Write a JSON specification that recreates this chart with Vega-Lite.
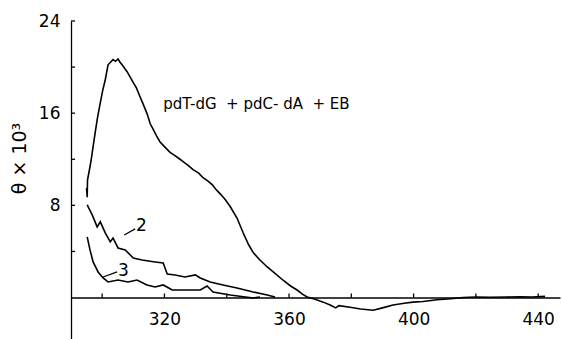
{
  "$schema": "https://vega.github.io/schema/vega-lite/v6.json",
  "width": 489,
  "height": 318,
  "autosize": {"type": "none"},
  "padding": {"left": 71, "top": 21, "right": 2, "bottom": 0},
  "background": "white",
  "config": {"view": {"stroke": null}, "font": "DejaVu Sans"},
  "datasets": {
    "curves": [
      {"s": "1", "x": 295.2, "y": 8.7}, {"s": "1", "x": 295.0, "y": 9.5}, {"s": "1", "x": 295.3, "y": 10.2},
      {"s": "1", "x": 296.0, "y": 11.2}, {"s": "1", "x": 296.5, "y": 12.0}, {"s": "1", "x": 297.2, "y": 13.3},
      {"s": "1", "x": 297.75, "y": 14.3}, {"s": "1", "x": 298.5, "y": 15.6}, {"s": "1", "x": 299.4, "y": 16.9},
      {"s": "1", "x": 300.2, "y": 18.0}, {"s": "1", "x": 301.0, "y": 18.9}, {"s": "1", "x": 301.9, "y": 20.2},
      {"s": "1", "x": 302.6, "y": 20.4}, {"s": "1", "x": 303.5, "y": 20.65}, {"s": "1", "x": 304.3, "y": 20.5},
      {"s": "1", "x": 305.1, "y": 20.7}, {"s": "1", "x": 305.8, "y": 20.4}, {"s": "1", "x": 306.4, "y": 20.2},
      {"s": "1", "x": 308.0, "y": 19.6}, {"s": "1", "x": 310.0, "y": 18.65}, {"s": "1", "x": 311.0, "y": 18.2},
      {"s": "1", "x": 312.2, "y": 17.4}, {"s": "1", "x": 313.3, "y": 16.7}, {"s": "1", "x": 314.5, "y": 15.9},
      {"s": "1", "x": 315.4, "y": 15.1}, {"s": "1", "x": 316.4, "y": 14.6}, {"s": "1", "x": 317.5, "y": 14.0},
      {"s": "1", "x": 318.6, "y": 13.5}, {"s": "1", "x": 320.0, "y": 13.1}, {"s": "1", "x": 321.8, "y": 12.6},
      {"s": "1", "x": 323.5, "y": 12.3}, {"s": "1", "x": 325.0, "y": 12.0}, {"s": "1", "x": 326.0, "y": 11.8},
      {"s": "1", "x": 327.5, "y": 11.5}, {"s": "1", "x": 329.2, "y": 11.1}, {"s": "1", "x": 331.0, "y": 10.8},
      {"s": "1", "x": 332.4, "y": 10.4}, {"s": "1", "x": 334.0, "y": 10.1}, {"s": "1", "x": 335.3, "y": 9.8},
      {"s": "1", "x": 336.5, "y": 9.4}, {"s": "1", "x": 337.9, "y": 9.0}, {"s": "1", "x": 339.5, "y": 8.5},
      {"s": "1", "x": 341.1, "y": 7.9}, {"s": "1", "x": 343.3, "y": 6.9}, {"s": "1", "x": 345.3, "y": 5.6},
      {"s": "1", "x": 347.0, "y": 4.6}, {"s": "1", "x": 348.5, "y": 3.9}, {"s": "1", "x": 350.5, "y": 3.3},
      {"s": "1", "x": 353.0, "y": 2.65}, {"s": "1", "x": 355.5, "y": 2.1}, {"s": "1", "x": 358.1, "y": 1.5},
      {"s": "1", "x": 360.5, "y": 1.0}, {"s": "1", "x": 362.6, "y": 0.65}, {"s": "1", "x": 364.3, "y": 0.3},
      {"s": "1", "x": 365.8, "y": 0.05}, {"s": "1", "x": 368.4, "y": -0.15}, {"s": "1", "x": 371.0, "y": -0.4},
      {"s": "1", "x": 373.2, "y": -0.65}, {"s": "1", "x": 375.0, "y": -0.9}, {"s": "1", "x": 376.0, "y": -0.7},
      {"s": "1", "x": 379.6, "y": -0.85}, {"s": "1", "x": 383.0, "y": -1.0}, {"s": "1", "x": 387.0, "y": -1.1},
      {"s": "1", "x": 390.0, "y": -0.9}, {"s": "1", "x": 393.4, "y": -0.65}, {"s": "1", "x": 397.0, "y": -0.5},
      {"s": "1", "x": 399.8, "y": -0.4}, {"s": "1", "x": 403.0, "y": -0.35}, {"s": "1", "x": 407.5, "y": -0.2},
      {"s": "1", "x": 412.0, "y": -0.1}, {"s": "1", "x": 415.9, "y": 0.0}, {"s": "1", "x": 420.0, "y": 0.05},
      {"s": "1", "x": 424.6, "y": 0.03}, {"s": "1", "x": 430.0, "y": 0.05}, {"s": "1", "x": 434.2, "y": 0.07},
      {"s": "1", "x": 438.0, "y": 0.05}, {"s": "1", "x": 442.2, "y": 0.1},
      {"s": "2", "x": 295.2, "y": 8.04}, {"s": "2", "x": 296.8, "y": 7.17}, {"s": "2", "x": 298.4, "y": 6.13},
      {"s": "2", "x": 299.4, "y": 6.57}, {"s": "2", "x": 301.0, "y": 5.61}, {"s": "2", "x": 302.6, "y": 4.83},
      {"s": "2", "x": 303.5, "y": 5.17}, {"s": "2", "x": 305.1, "y": 4.3}, {"s": "2", "x": 307.4, "y": 4.13},
      {"s": "2", "x": 310.0, "y": 3.43}, {"s": "2", "x": 312.8, "y": 3.26}, {"s": "2", "x": 317.0, "y": 3.09},
      {"s": "2", "x": 319.6, "y": 3.0}, {"s": "2", "x": 320.9, "y": 2.04}, {"s": "2", "x": 323.4, "y": 1.96},
      {"s": "2", "x": 326.6, "y": 1.78}, {"s": "2", "x": 329.9, "y": 1.96}, {"s": "2", "x": 331.5, "y": 1.7},
      {"s": "2", "x": 334.7, "y": 1.35}, {"s": "2", "x": 338.8, "y": 1.09}, {"s": "2", "x": 343.3, "y": 0.83},
      {"s": "2", "x": 348.5, "y": 0.48}, {"s": "2", "x": 353.0, "y": 0.22}, {"s": "2", "x": 355.5, "y": 0.04},
      {"s": "3", "x": 295.2, "y": 5.26}, {"s": "3", "x": 296.1, "y": 4.13}, {"s": "3", "x": 297.1, "y": 3.09},
      {"s": "3", "x": 298.7, "y": 2.22}, {"s": "3", "x": 300.3, "y": 1.7}, {"s": "3", "x": 301.9, "y": 1.35},
      {"s": "3", "x": 305.1, "y": 1.52}, {"s": "3", "x": 308.3, "y": 1.35}, {"s": "3", "x": 311.2, "y": 1.52},
      {"s": "3", "x": 314.4, "y": 1.09}, {"s": "3", "x": 317.0, "y": 0.91}, {"s": "3", "x": 319.6, "y": 1.09},
      {"s": "3", "x": 322.5, "y": 0.65}, {"s": "3", "x": 326.6, "y": 0.65}, {"s": "3", "x": 331.5, "y": 0.65},
      {"s": "3", "x": 333.7, "y": 1.0}, {"s": "3", "x": 335.6, "y": 0.48}, {"s": "3", "x": 341.1, "y": 0.22},
      {"s": "3", "x": 348.5, "y": -0.04}, {"s": "3", "x": 350.7, "y": 0.04}
    ],
    "title": [
      {"x": 319.6, "y": 16.8, "t": "pdT-dG\u00a0\u00a0+ pdC- dA\u00a0\u00a0+ EB"}
    ],
    "labels": [
      {"x": 312.6, "y": 6.2, "t": "2"},
      {"x": 306.8, "y": 2.3, "t": "3"}
    ],
    "arrows": [
      {"x": 307.1, "y": 5.43, "x2": 310.6, "y2": 5.96},
      {"x": 300.3, "y": 1.78, "x2": 304.8, "y2": 2.22}
    ],
    "yticks": [
      {"y": 4}, {"y": 8}, {"y": 12}, {"y": 16}, {"y": 20}, {"y": 24}
    ],
    "xticks": [
      {"x": 300}, {"x": 320}, {"x": 340}, {"x": 360}, {"x": 380}, {"x": 400}, {"x": 420}, {"x": 440}
    ]
  },
  "layer": [
    {
      "data": {"name": "curves"},
      "mark": {"type": "line", "color": "black", "strokeWidth": 1.6, "interpolate": "linear"},
      "encoding": {
        "x": {
          "field": "x", "type": "quantitative",
          "scale": {"domain": [290, 447], "nice": false, "zero": false},
          "axis": {
            "orient": "bottom", "offset": -41.5, "title": null, "grid": false,
            "values": [300, 320, 340, 360, 380, 400, 420, 440],
            "labelExpr": "datum.value % 40 == 0 ? datum.label : ''",
            "ticks": false,
            "domainColor": "black", "domainWidth": 1.3,
            "labelFontSize": 17, "labelColor": "black", "labelPadding": 14, "labelFont": "DejaVu Sans"
          }
        },
        "y": {
          "field": "y", "type": "quantitative",
          "scale": {"domain": [-3.6, 24], "nice": false, "zero": false},
          "axis": {
            "title": "θ × 10³", "grid": false,
            "values": [4, 8, 12, 16, 20, 24],
            "labelExpr": "datum.value % 8 == 0 ? datum.label : ''",
            "ticks": false,
            "domainColor": "black", "domainWidth": 1.3,
            "labelFontSize": 17, "labelColor": "black", "labelPadding": 11, "labelFont": "DejaVu Sans",
            "titleFontSize": 19, "titleFontWeight": "normal", "titleColor": "black",
            "titleX": -52, "titleY": 137, "titleAngle": -90, "titleBaseline": "middle", "titleAlign": "center"
          }
        },
        "detail": {"field": "s"}
      }
    },
    {
      "data": {"name": "yticks"},
      "mark": {"type": "rule", "color": "black", "strokeWidth": 1.3},
      "encoding": {
        "y": {"field": "y", "type": "quantitative"},
        "x": {"datum": 290},
        "x2": {"datum": 291.3}
      }
    },
    {
      "data": {"name": "xticks"},
      "mark": {"type": "rule", "color": "black", "strokeWidth": 1.3},
      "encoding": {
        "x": {"field": "x", "type": "quantitative"},
        "y": {"datum": 0},
        "y2": {"datum": 0.35}
      }
    },
    {
      "data": {"name": "title"},
      "mark": {"type": "text", "color": "black", "baseline": "middle", "align": "left", "fontSize": 15, "font": "DejaVu Sans"},
      "encoding": {
        "x": {"field": "x", "type": "quantitative"},
        "y": {"field": "y", "type": "quantitative"},
        "text": {"field": "t"}
      }
    },
    {
      "data": {"name": "labels"},
      "mark": {"type": "text", "color": "black", "baseline": "middle", "align": "center", "fontSize": 17, "font": "DejaVu Sans"},
      "encoding": {
        "x": {"field": "x", "type": "quantitative"},
        "y": {"field": "y", "type": "quantitative"},
        "text": {"field": "t"}
      }
    },
    {
      "data": {"name": "arrows"},
      "mark": {"type": "rule", "color": "black", "strokeWidth": 1.3},
      "encoding": {
        "x": {"field": "x", "type": "quantitative"},
        "y": {"field": "y", "type": "quantitative"},
        "x2": {"field": "x2"},
        "y2": {"field": "y2"}
      }
    }
  ]
}
